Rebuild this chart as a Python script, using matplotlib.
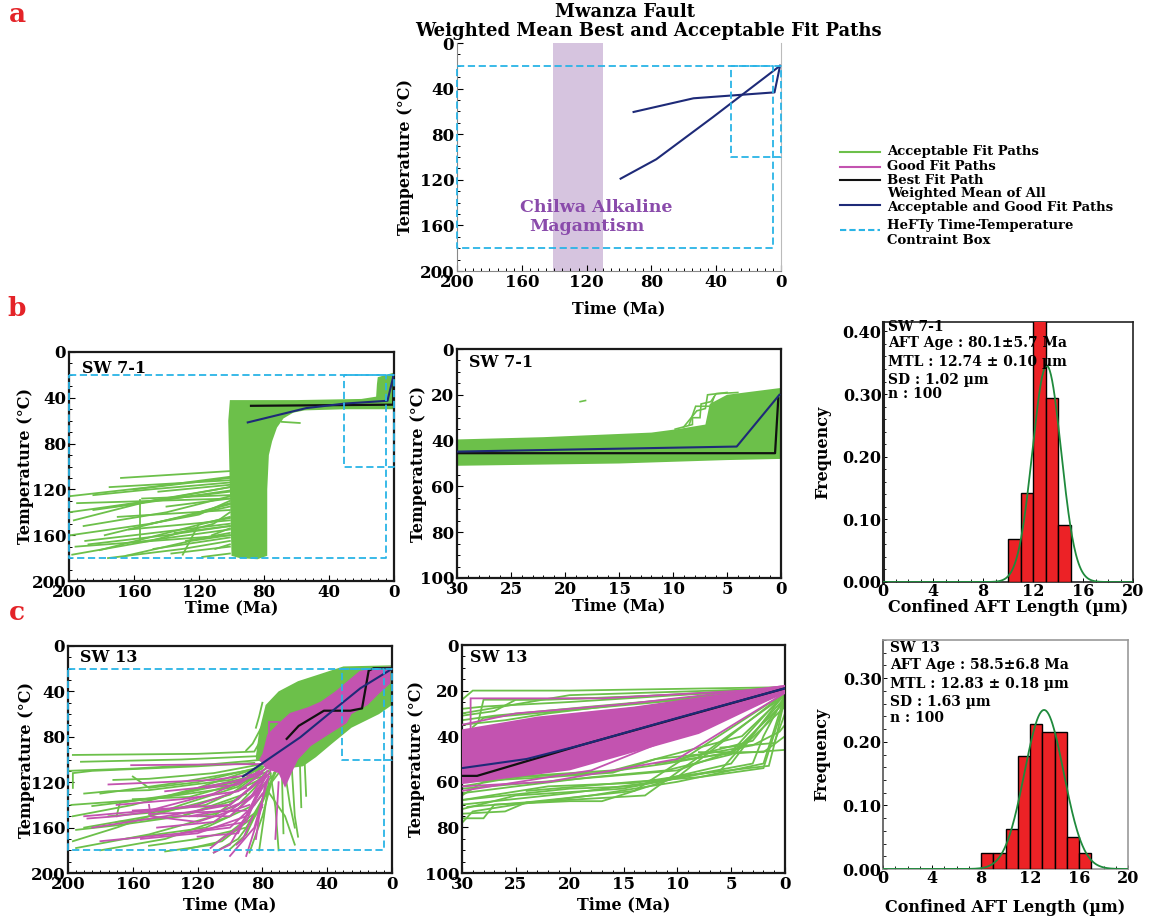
import matplotlib
matplotlib.use('Agg')
import matplotlib.pyplot as plt
import numpy as np
from matplotlib.lines import Line2D
from matplotlib.ticker import MultipleLocator, FormatStrFormatter

W, H = 1168, 917
plt.rcParams['font.family'] = ['DejaVu Serif', 'DejaVu Sans']
plt.rcParams['font.weight'] = 'bold'
plt.rcParams['axes.labelweight'] = 'bold'

GREEN = '#6cc04a'
MAGENTA = '#c353b0'
BLACK = '#111111'
BLUE = '#1e2a78'
CYAN = '#2ab4e6'
BAND = '#d6c4df'
PURPLE_TEXT = '#8a4bab'
RED = '#ec2226'
LETTER_RED = '#e42328'
GAUSS = '#1f8a3c'

# ---------------- Panel a data ----------------
chilwa_start, chilwa_end = 141, 110
box_big_time = [200, 5, 5, 200, 200]
box_big_temp = [20, 20, 180, 180, 20]
box_small_time = [31, 0, 0, 31, 31]
box_small_temp = [20, 20, 100, 100, 20]
a_wm1_time = [91, 54, 4, 0.6]
a_wm1_temp = [60.5, 48.5, 43.3, 20]
a_wm2_time = [99, 77, 42, 0.6]
a_wm2_temp = [119, 102, 65, 20]

# ---------------- Panel b (SW 7-1) ----------------
b1_dense_time = [101, 60, 20, 11, 10.5, 10, 5, 0, 0, 30, 55, 62, 68, 72, 75, 77, 78, 78, 84, 95, 100, 101, 102]
b1_dense_temp = [42, 42, 41, 39, 28, 22, 20, 18, 50, 50, 51, 53, 58, 66, 78, 90, 120, 178, 181, 180, 178, 120, 60]
b1_fan_paths = [
    ([200, 150, 101], [126, 118, 109]),
    ([168, 101], [110, 104]),
    ([175, 101], [118, 112]),
    ([197, 150, 101], [147, 130, 118]),
    ([185, 101], [138, 121]),
    ([191, 140, 101], [152, 140, 126]),
    ([199, 150, 101], [160, 150, 135]),
    ([198, 150, 111, 101], [177, 165, 150, 140]),
    ([181, 101], [173, 144]),
    ([163, 101], [155, 147]),
    ([155, 101], [128, 125]),
    ([158, 101], [166, 155]),
    ([148, 101], [172, 162]),
    ([137, 101], [176, 170]),
    ([118, 101], [179, 176]),
    ([156, 156], [129, 164]),
    ([130, 120, 101], [177, 150, 145]),
    ([145, 101], [122, 116]),
    ([190, 130, 101], [165, 155, 150]),
    ([178, 120, 101], [160, 140, 132]),
    ([170, 101], [144, 138]),
    ([165, 125, 101], [178, 165, 160]),
    ([195, 101], [132, 128]),
    ([200, 160, 101], [140, 132, 122]),
    ([188, 140, 101], [168, 160, 152]),
    ([176, 130, 101], [180, 172, 165]),
    ([160, 130, 101], [120, 115, 110]),
    ([150, 120, 101], [150, 142, 130]),
    ([140, 101], [135, 128]),
    ([128, 101], [165, 158]),
    ([185, 150, 101], [125, 120, 114]),
    ([110, 101], [172, 168]),
    ([120, 101], [140, 133]),
    ([172, 140, 101], [135, 128, 118]),
    ([196, 101], [170, 160]),
    ([135, 101], [158, 152]),
    ([112, 101], [160, 154]),
    ([69, 58], [61, 62]),
]
b1_best_time = [88, 0.5, 0.2]
b1_best_temp = [47, 46, 21]
b1_wm_time = [90, 54, 30, 4, 0.2]
b1_wm_temp = [61.5, 49, 45, 42.6, 20]

b2_dense_time = [30, 22, 12, 9.6, 7, 6.6, 5, 0, 0, 5, 15, 30]
b2_dense_temp = [39.5, 38.5, 36.5, 35, 33, 24, 20, 17, 48, 48.5, 50, 51]
b2_step_paths = [
    ([9.8, 8.2, 8.2, 7.5, 7.4, 6.5, 6.0, 4.0], [35, 33, 30, 30, 24, 23, 19.5, 19]),
    ([9.0, 7.8, 7.0, 6.8, 5.0], [34, 27, 26, 20, 19]),
    ([8.5, 7.9, 6.5, 6.2], [33, 25, 25, 21]),
    ([18.6, 18.1], [23, 22.5]),
]
b2_best_time = [30, 0.55, 0.25]
b2_best_temp = [45.5, 45.5, 21.5]
b2_wm_time = [30, 4.1, 0.15]
b2_wm_temp = [44.8, 42.6, 20]

h1_left = [10, 11, 12, 13, 14]
h1_freq = [0.069, 0.142, 0.42, 0.294, 0.091]
h1_curve_center, h1_curve_sigma, h1_curve_peak = 13.1, 1.15, 0.345
h1_lines = ['SW 7-1', 'AFT Age : 80.1±5.7 Ma', 'MTL : 12.74 ± 0.10 µm', 'SD : 1.02 µm', 'n : 100']

# ---------------- Panel c (SW 13) ----------------
c1_green_poly_time = [84, 82, 78, 70, 58, 45, 30, 0, 0, 8, 25, 37, 47, 55, 65, 75, 84]
c1_green_poly_temp = [97, 75, 52, 40, 31, 25, 18, 17, 52, 60, 72, 86, 98, 106, 108, 106, 100]
c1_mag_poly_time = [80, 77, 70, 63, 52, 44, 35, 30, 20, 10, 1, 1, 8, 15, 25, 28, 38, 50, 58, 62, 66, 70, 78, 82]
c1_mag_poly_temp = [95, 78, 68, 59, 54, 49, 40, 34, 22, 19, 18, 33, 42, 52, 60, 68, 77, 88, 100, 112, 125, 112, 108, 100]
c1_green_paths = [
    ([197, 120, 85, 79], [96, 95, 93, 78]),
    ([192, 130, 82], [102, 100, 97]),
    ([197, 197, 185, 120, 85], [125, 112, 110, 106, 103]),
    ([197, 170, 130, 95, 78], [172, 160, 140, 124, 105]),
    ([197, 160, 120, 80], [150, 140, 125, 106]),
    ([195, 150, 110, 75], [178, 166, 150, 112]),
    ([190, 150, 100, 72], [160, 150, 131, 102]),
    ([185, 140, 90, 75], [141, 133, 116, 98]),
    ([180, 135, 82], [130, 121, 108]),
    ([165, 115, 85, 70], [170, 160, 140, 112]),
    ([150, 120, 90, 78, 70], [176, 170, 160, 130, 106]),
    ([140, 110, 80], [181, 175, 142]),
    ([100, 90, 75], [179, 166, 121]),
    ([88, 80, 73], [182, 150, 112]),
    ([62, 60, 58], [104, 150, 168]),
    ([57, 56], [96, 142]),
    ([54, 53], [100, 132]),
    ([75, 72, 70], [112, 142, 180]),
    ([68, 67], [110, 165]),
    ([172, 150, 110, 80], [118, 117, 112, 104]),
    ([160, 125, 80], [135, 133, 115]),
    ([190, 175, 150, 100, 80], [130, 128, 127, 118, 108]),
    ([170, 168, 130, 90], [150, 138, 130, 118]),
    ([120, 110, 95, 80], [150, 148, 140, 118]),
    ([84, 82, 80], [72, 62, 50]),
    ([78, 66, 60], [125, 150, 175]),
    ([200, 160, 110, 78], [110, 108, 104, 100]),
    ([198, 150, 100, 76], [140, 135, 125, 110]),
    ([180, 140, 100, 74], [180, 170, 150, 115]),
    ([170, 130, 95, 78], [155, 150, 135, 112]),
    ([160, 150, 120, 85], [115, 125, 120, 108]),
    ([195, 170, 130, 90], [162, 158, 150, 130]),
    ([175, 150, 115, 82], [150, 147, 140, 118]),
    ([130, 105, 85, 74], [180, 172, 150, 118]),
    ([110, 95, 82, 72], [182, 170, 145, 110]),
    ([82, 79, 76], [180, 150, 118]),
    ([66, 63, 60], [112, 140, 160]),
    ([90, 86, 80], [92, 86, 70]),
]
c1_mag_paths = [
    ([161, 81], [105, 104]),
    ([175, 110, 80], [122, 118, 112]),
    ([190, 150, 110, 80], [150, 145, 130, 110]),
    ([160, 100, 78], [145, 140, 115]),
    ([145, 110, 85, 75], [160, 155, 130, 110]),
    ([130, 100, 85], [165, 160, 140]),
    ([120, 95, 80], [168, 165, 120]),
    ([110, 100, 90, 78], [182, 175, 150, 115]),
    ([180, 130, 90, 77], [172, 165, 155, 110]),
    ([150, 90], [148, 145]),
    ([76, 76, 70, 70], [93, 67, 67, 90]),
    ([140, 120, 100, 85, 75], [128, 125, 120, 115, 105]),
    ([112, 105, 95, 80], [178, 170, 160, 130]),
    ([96, 92, 86], [175, 170, 150]),
    ([188, 170, 120, 90], [152, 150, 140, 125]),
    ([150, 149, 120, 88], [140, 150, 155, 140]),
    ([84, 82, 78], [170, 150, 120]),
    ([72, 70], [170, 120]),
    ([170, 130, 95, 80], [140, 135, 128, 112]),
    ([155, 120, 90, 76], [170, 165, 150, 115]),
    ([185, 140, 100, 78], [160, 150, 140, 113]),
    ([125, 105, 88, 78], [150, 145, 135, 112]),
    ([100, 85, 76], [185, 160, 115]),
    ([90, 80], [185, 140]),
    ([135, 100, 80], [150, 150, 125]),
    ([115, 95, 82], [125, 122, 110]),
]
c1_best_time = [65, 57.6, 42, 25.7, 18.5, 14.4, 11.3, 1]
c1_best_temp = [81.8, 70.4, 57, 57, 55, 21.7, 19.6, 19.6]
c1_wm_time = [92, 56.6, 36, 19.5, 1]
c1_wm_temp = [115, 80.4, 56.3, 37.2, 21]

c2_mag_poly_time = [30, 23, 14, 0, 0, 8, 20, 30]
c2_mag_poly_temp = [37, 31.4, 27, 17.5, 21, 39, 55, 61]
c2_green_paths = [
    ([30, 29, 20, 0], [24, 20, 20, 18.5]),
    ([30, 25, 20, 0], [30, 26, 22, 19]),
    ([30, 27, 18, 0], [33, 31, 27, 19.5]),
    ([30, 26, 22, 15, 0], [35, 33, 30, 26, 19]),
    ([30, 24, 18, 8, 0], [38, 36, 30, 24, 19]),
    ([28.5, 28, 22, 0], [34, 24, 24, 20]),
    ([30, 28, 27, 20, 17, 10, 0], [76, 76, 70, 68.5, 68.5, 58, 21]),
    ([30, 25, 15, 5, 0], [72, 66, 63, 52, 21]),
    ([30, 20, 12, 3, 2, 0], [70, 65, 60, 52, 40, 22]),
    ([30, 22, 14, 9, 1.5, 0.8, 0], [68, 62, 60.5, 57, 53, 40, 23]),
    ([30, 25, 18, 11, 5, 0], [65, 62, 58, 55, 48, 25]),
    ([30, 20, 10, 4, 0], [63, 59, 55, 45, 27]),
    ([12, 6, 0], [52, 48, 46]),
    ([10, 3, 0.5, 0], [50, 44, 38, 35]),
    ([8, 2, 0], [47, 47, 40]),
    ([6, 1, 0], [45, 43, 30]),
    ([30, 26, 24, 13, 0], [74, 73, 69, 66, 22]),
    ([30, 28, 26, 16, 4, 0], [66, 60, 58, 55, 40, 22]),
    ([30, 22, 16, 12, 8, 3, 0], [60, 58, 56, 50, 48, 42, 24]),
    ([27, 26, 15, 0], [48, 45, 42, 20]),
    ([30, 28, 20, 10, 0], [28, 27, 25, 22, 18.5]),
    ([30, 27, 25, 15, 0], [31, 29, 24, 23, 19]),
    ([29, 28, 21, 0], [36, 32, 29, 20]),
    ([30, 29, 25, 18, 10, 2, 0], [78, 73, 70, 66, 60, 52, 22]),
    ([30, 26, 20, 14, 6, 0], [68, 66, 63, 62, 55, 23]),
    ([24, 14, 8, 2, 0], [64, 60, 58, 54, 24]),
    ([30, 25, 17, 11, 5, 0], [62, 58, 56, 52, 47, 21]),
    ([30, 27, 23, 18, 12, 0], [40, 38, 35, 33, 28, 19]),
    ([29.5, 24, 14, 0], [71, 69, 64, 21]),
]
c2_mag_paths = [
    ([29.2, 29.2, 17, 0], [40, 23.4, 23.4, 19]),
    ([30, 22, 10, 0], [62, 60, 50, 21]),
    ([30, 18, 0], [64, 55, 21]),
    ([30, 25, 15, 0], [35, 30, 26, 18]),
]
c2_best_time = [30, 28.6, 19, 0]
c2_best_temp = [57.4, 57.4, 44, 19]
c2_wm_time = [30, 24, 19, 10, 0]
c2_wm_temp = [54, 50, 44, 32, 19]

h2_left = [8, 9, 10, 11, 12, 13, 14, 15, 16]
h2_freq = [0.025, 0.025, 0.063, 0.178, 0.228, 0.216, 0.216, 0.05, 0.025]
h2_curve_center, h2_curve_sigma, h2_curve_peak = 13.15, 1.6, 0.25
h2_lines = ['SW 13', 'AFT Age : 58.5±6.8 Ma', 'MTL : 12.83 ± 0.18 µm', 'SD : 1.63 µm', 'n : 100']

legend_items = [
    (GREEN, '-', ['Acceptable Fit Paths']),
    (MAGENTA, '-', ['Good Fit Paths']),
    (BLACK, '-', ['Best Fit Path']),
    (BLUE, '-', ['Weighted Mean of All', 'Acceptable and Good Fit Paths']),
    (CYAN, '--', ['HeFTy Time-Temperature', 'Contraint Box']),
]

# ---------------- helpers ----------------
fig = plt.figure(figsize=(W / 100, H / 100), dpi=100)


def rect(x0, y0, x1, y1):
    return [x0 / W, 1 - y1 / H, (x1 - x0) / W, (y1 - y0) / H]


def fx(x):
    return x / W


def fy(y):
    return 1 - y / H


TICK_FS = 12
LABEL_FS = 11.5


def style_tt(ax, tmax, Tmax, xmaj, xmin, ymaj, ymin, xlab_y, ylab_x, frame='black'):
    ax.set_xlim(tmax, 0)
    ax.set_ylim(Tmax, 0)
    ax.xaxis.set_major_locator(MultipleLocator(xmaj))
    ax.xaxis.set_minor_locator(MultipleLocator(xmin))
    ax.yaxis.set_major_locator(MultipleLocator(ymaj))
    ax.yaxis.set_minor_locator(MultipleLocator(ymin))
    ax.tick_params(which='major', direction='in', length=4, width=0.8, labelsize=TICK_FS, pad=2)
    ax.tick_params(which='minor', direction='in', length=2.5, width=0.7)
    for lab in ax.get_xticklabels() + ax.get_yticklabels():
        lab.set_fontweight('bold')
    ax.set_xlabel('Time (Ma)', fontsize=LABEL_FS, fontweight='bold')
    ax.set_ylabel('Temperature (°C)', fontsize=LABEL_FS, fontweight='bold')
    ax.xaxis.set_label_coords(0.5, xlab_y)
    ax.xaxis.label.set_verticalalignment('center')
    ax.yaxis.set_label_coords(ylab_x, 0.5)
    ax.yaxis.label.set_verticalalignment('center')
    if frame == 'black':
        for s in ax.spines.values():
            s.set_color('#1a1a1a')
            s.set_linewidth(1.6)
    ax.set_facecolor('white')


def draw_box(ax):
    ax.plot(box_big_time, box_big_temp, color=CYAN, ls=(0, (4, 2)), lw=1.3, zorder=6, clip_on=False)
    ax.plot(box_small_time, box_small_temp, color=CYAN, ls=(0, (4, 2)), lw=1.3, zorder=6, clip_on=False)


def draw_paths(ax, paths, color, lw=1.3, z=2):
    for t, T in paths:
        ax.plot(t, T, color=color, lw=lw, zorder=z, solid_joinstyle='miter')


# ---------------- Panel a ----------------
axa = fig.add_axes(rect(457, 43, 781, 271))
style_tt(axa, 200, 200, 40, 5, 40, 10, -0.167, -0.16, frame='gray')
axa.spines['top'].set_visible(False)
axa.spines['left'].set_color('#888888')
axa.spines['bottom'].set_color('#888888')
axa.spines['right'].set_color('#bbbbbb')
axa.axvspan(chilwa_end, chilwa_start, color=BAND, lw=0, zorder=1)
draw_box(axa)
axa.plot(a_wm1_time, a_wm1_temp, color=BLUE, lw=1.5, zorder=5)
axa.plot(a_wm2_time, a_wm2_temp, color=BLUE, lw=1.5, zorder=5)
axa.text(114, 144, 'Chilwa Alkaline', color=PURPLE_TEXT, fontsize=12.5, fontweight='bold',
         ha='center', va='center', zorder=7)
axa.text(120, 161, 'Magamtism', color=PURPLE_TEXT, fontsize=12.5, fontweight='bold',
         ha='center', va='center', zorder=7)
fig.text(fx(625), fy(12), 'Mwanza Fault', fontsize=13, fontweight='bold', ha='center', va='center')
fig.text(fx(648), fy(31), 'Weighted Mean Best and Acceptable Fit Paths', fontsize=13,
         fontweight='bold', ha='center', va='center')

# legend
leg_rows = [(152, [152]), (167, [167]), (180, [180]), (205, [193, 208]), (230, [226, 241])]
for (color, ls, texts), (ly, tys) in zip(legend_items, leg_rows):
    style = (0, (3, 1.5)) if ls == '--' else '-'
    fig.add_artist(Line2D([fx(840), fx(880)], [fy(ly), fy(ly)], color=color, lw=1.5, ls=style,
                          transform=fig.transFigure))
    for txt, ty in zip(texts, tys):
        fig.text(fx(887), fy(ty), txt, fontsize=9.5, fontweight='bold', ha='left', va='center')

# panel letters
for letter, (lx, ly) in zip(['a', 'b', 'c'], [(17, 15), (17, 309), (17, 613)]):
    fig.text(fx(lx), fy(ly), letter, color=LETTER_RED, fontsize=19, fontweight='bold',
             ha='center', va='center')

# ---------------- Panel b1 ----------------
axb1 = fig.add_axes(rect(69, 352, 394, 581))
style_tt(axb1, 200, 200, 40, 5, 40, 10, -0.118, -0.135)
draw_paths(axb1, b1_fan_paths, GREEN)
axb1.fill(b1_dense_time, b1_dense_temp, color=GREEN, lw=0, zorder=2)
axb1.plot(b1_best_time, b1_best_temp, color=BLACK, lw=1.6, zorder=5)
axb1.plot(b1_wm_time, b1_wm_temp, color=BLUE, lw=1.5, zorder=5)
draw_box(axb1)
axb1.text(0.04, 0.93, 'SW 7-1', transform=axb1.transAxes, fontsize=11.5, fontweight='bold',
          ha='left', va='center')

# ---------------- Panel b2 ----------------
axb2 = fig.add_axes(rect(457, 349, 781, 578))
style_tt(axb2, 30, 100, 5, 1, 20, 5, -0.122, -0.12)
axb2.fill(b2_dense_time, b2_dense_temp, color=GREEN, lw=0, zorder=2)
draw_paths(axb2, b2_step_paths, GREEN, lw=1.2)
axb2.plot(b2_best_time, b2_best_temp, color=BLACK, lw=1.6, zorder=5)
axb2.plot(b2_wm_time, b2_wm_temp, color=BLUE, lw=1.5, zorder=5)
axb2.text(0.037, 0.943, 'SW 7-1', transform=axb2.transAxes, fontsize=11.5, fontweight='bold',
          ha='left', va='center')


def style_hist(ax, ytop, xlab_y, ylab_x, lines, text_x, text_ys, frame):
    ax.set_xlim(0, 20)
    ax.set_ylim(0, ytop)
    ax.xaxis.set_major_locator(MultipleLocator(4))
    ax.xaxis.set_minor_locator(MultipleLocator(1))
    ax.yaxis.set_major_locator(MultipleLocator(0.1))
    ax.yaxis.set_minor_locator(MultipleLocator(0.02))
    ax.yaxis.set_major_formatter(FormatStrFormatter('%.2f'))
    ax.tick_params(which='major', direction='in', length=3, width=0.7, labelsize=11.5, pad=1)
    ax.tick_params(which='minor', direction='in', length=2, width=0.6)
    ax.set_xlabel('Confined AFT Length (µm)', fontsize=LABEL_FS, fontweight='bold')
    ax.set_ylabel('Frequency', fontsize=LABEL_FS, fontweight='bold')
    ax.xaxis.set_label_coords(0.5, xlab_y)
    ax.xaxis.label.set_verticalalignment('center')
    ax.yaxis.set_label_coords(ylab_x, 0.5)
    ax.yaxis.label.set_verticalalignment('center')
    for s in ax.spines.values():
        s.set_color(frame)
        s.set_linewidth(1.2)
    for txt, ty in zip(lines, text_ys):
        ax.text(text_x, ty, txt, transform=ax.transAxes, fontsize=10, fontweight='bold',
                ha='left', va='center', zorder=8)


# ---------------- Panel b3 ----------------
axb3 = fig.add_axes(rect(883, 322, 1133, 582))
axb3.bar(h1_left, h1_freq, width=1.0, align='edge', color=RED, edgecolor='black', lw=1.0, zorder=3)
xs = np.linspace(0, 20, 400)
axb3.plot(xs, h1_curve_peak * np.exp(-0.5 * ((xs - h1_curve_center) / h1_curve_sigma) ** 2),
          color=GAUSS, lw=1.3, zorder=4)
style_hist(axb3, 0.415, -0.1, -0.24, h1_lines, 0.02, [0.98, 0.919, 0.846, 0.777, 0.723], '#222222')
axb3.spines['left'].set_linewidth(2.2)

# ---------------- Panel c1 ----------------
axc1 = fig.add_axes(rect(68, 646, 392, 873))
style_tt(axc1, 200, 200, 40, 5, 40, 10, -0.141, -0.127)
axc1.fill(c1_green_poly_time, c1_green_poly_temp, color=GREEN, lw=0, zorder=2)
draw_paths(axc1, c1_green_paths, GREEN)
draw_paths(axc1, c1_mag_paths, MAGENTA, z=3)
axc1.fill(c1_mag_poly_time, c1_mag_poly_temp, color=MAGENTA, lw=0, zorder=3)
axc1.plot(c1_best_time, c1_best_temp, color=BLACK, lw=1.6, zorder=5)
axc1.plot(c1_wm_time, c1_wm_temp, color=BLUE, lw=1.5, zorder=5)
draw_box(axc1)
axc1.text(0.037, 0.95, 'SW 13', transform=axc1.transAxes, fontsize=11.5, fontweight='bold',
          ha='left', va='center')

# ---------------- Panel c2 ----------------
axc2 = fig.add_axes(rect(462, 645, 785, 873))
style_tt(axc2, 30, 100, 5, 1, 20, 5, -0.14, -0.14)
draw_paths(axc2, c2_green_paths, GREEN)
axc2.fill(c2_mag_poly_time, c2_mag_poly_temp, color=MAGENTA, lw=0, zorder=3)
draw_paths(axc2, c2_mag_paths, MAGENTA, z=3)
axc2.plot(c2_best_time, c2_best_temp, color=BLACK, lw=1.6, zorder=5)
axc2.plot(c2_wm_time, c2_wm_temp, color=BLUE, lw=1.5, zorder=5)
axc2.text(0.025, 0.947, 'SW 13', transform=axc2.transAxes, fontsize=11.5, fontweight='bold',
          ha='left', va='center')

# ---------------- Panel c3 ----------------
axc3 = fig.add_axes(rect(883, 640, 1128, 869))
axc3.bar(h2_left, h2_freq, width=1.0, align='edge', color=RED, edgecolor='black', lw=1.0, zorder=3)
axc3.plot(xs, h2_curve_peak * np.exp(-0.5 * ((xs - h2_curve_center) / h2_curve_sigma) ** 2),
          color=GAUSS, lw=1.3, zorder=4)
style_hist(axc3, 0.36, -0.166, -0.25, h2_lines, 0.03, [0.965, 0.89, 0.808, 0.729, 0.659], '#999999')
axc3.spines['left'].set_color('#555555')

fig.savefig('out.png', dpi=100, facecolor='white')
